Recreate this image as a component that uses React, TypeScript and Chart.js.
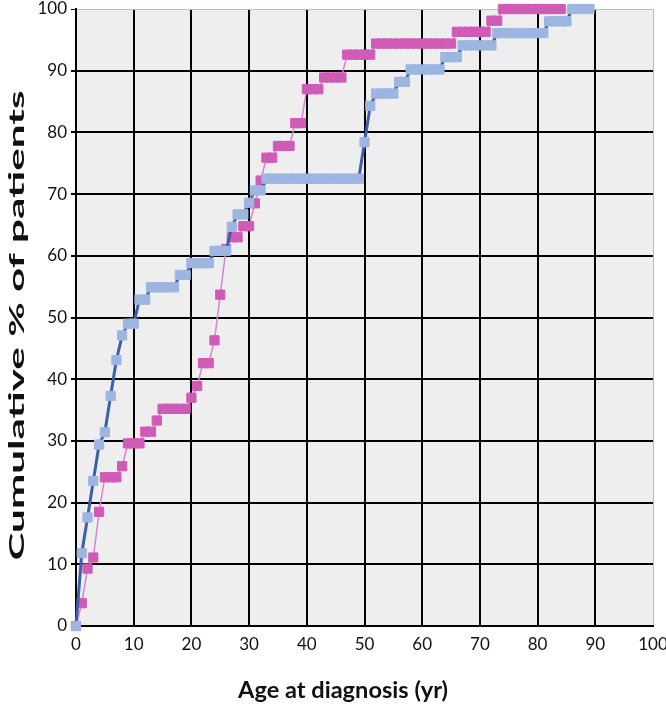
import React, { useEffect, useRef } from "react";
import { Chart, registerables } from "chart.js";

Chart.register(...registerables);

// Age at diagnosis (years) for each plotted point
const agesA = [
  0, 1, 2, 3, 4, 5, 6, 7, 8, 9, 10, 11, 12, 13, 14, 15, 16, 17, 18, 19,
  20, 21, 22, 23, 24, 25, 26, 27, 28, 29, 30, 31, 32, 33, 34, 35, 36, 37, 38, 39,
  40, 41, 42, 43, 44, 45, 46, 47, 48, 49, 50, 51, 52, 53, 54, 55, 56, 57, 58, 59,
  60, 61, 62, 63, 64, 65, 66, 67, 68, 69, 70, 71, 72, 73, 74, 75, 76, 77, 78, 79,
  80, 81, 82, 83, 84, 85, 86, 87, 88, 89,
];
// Cumulative % of patients, blue series
const cumA = [
  0, 11.8, 17.6, 23.5, 29.4, 31.4, 37.3, 43.1, 47.1, 49.0,
  49.0, 52.9, 52.9, 54.9, 54.9, 54.9, 54.9, 54.9, 56.9, 56.9,
  58.8, 58.8, 58.8, 58.8, 60.8, 60.8, 60.8, 64.7, 66.7, 66.7,
  68.6, 70.6, 70.6, 72.5, 72.5, 72.5, 72.5, 72.5, 72.5, 72.5,
  72.5, 72.5, 72.5, 72.5, 72.5, 72.5, 72.5, 72.5, 72.5, 72.5,
  78.4, 84.3, 86.3, 86.3, 86.3, 86.3, 88.2, 88.2, 90.2, 90.2,
  90.2, 90.2, 90.2, 90.2, 92.2, 92.2, 92.2, 94.1, 94.1, 94.1,
  94.1, 94.1, 94.1, 96.1, 96.1, 96.1, 96.1, 96.1, 96.1, 96.1,
  96.1, 96.1, 98.0, 98.0, 98.0, 98.0, 100, 100, 100, 100,
];

const agesB = [
  0, 1, 2, 3, 4, 5, 6, 7, 8, 9, 10, 11, 12, 13, 14, 15, 16, 17, 18, 19,
  20, 21, 22, 23, 24, 25, 26, 27, 28, 29, 30, 31, 32, 33, 34, 35, 36, 37, 38, 39,
  40, 41, 42, 43, 44, 45, 46, 47, 48, 49, 50, 51, 52, 53, 54, 55, 56, 57, 58, 59,
  60, 61, 62, 63, 64, 65, 66, 67, 68, 69, 70, 71, 72, 73, 74, 75, 76, 77, 78, 79,
  80, 81, 82, 83, 84,
];
// Cumulative % of patients, magenta series
const cumB = [
  0, 3.7, 9.3, 11.1, 18.5, 24.1, 24.1, 24.1, 25.9, 29.6,
  29.6, 29.6, 31.5, 31.5, 33.3, 35.2, 35.2, 35.2, 35.2, 35.2,
  37.0, 38.9, 42.6, 42.6, 46.3, 53.7, 61.1, 63.0, 63.0, 64.8,
  64.8, 68.5, 72.2, 75.9, 75.9, 77.8, 77.8, 77.8, 81.5, 81.5,
  87.0, 87.0, 87.0, 88.9, 88.9, 88.9, 88.9, 92.6, 92.6, 92.6,
  92.6, 92.6, 94.4, 94.4, 94.4, 94.4, 94.4, 94.4, 94.4, 94.4,
  94.4, 94.4, 94.4, 94.4, 94.4, 94.4, 96.3, 96.3, 96.3, 96.3,
  96.3, 96.3, 98.1, 98.1, 100, 100, 100, 100, 100, 100,
  100, 100, 100, 100, 100,
];

const xTitle = "Age at diagnosis (yr)";
const yTitle = "Cumulative % of patients";

const FONT = "Lato, 'Liberation Sans', sans-serif";

const plotBg = {
  id: "plotBg",
  beforeDraw(chart: any) {
    const { ctx, chartArea } = chart;
    ctx.save();
    ctx.fillStyle = "#eeeeee";
    ctx.fillRect(chartArea.left, chartArea.top, chartArea.right - chartArea.left, chartArea.bottom - chartArea.top);
    ctx.restore();
  },
};

// Axis titles, drawn as text fitted to the reference's extents
const titlesPlugin = {
  id: "axisTitles",
  afterDraw(chart: any) {
    const { ctx, chartArea } = chart;
    ctx.save();
    ctx.fillStyle = "#111";
    ctx.textAlign = "center";
    ctx.textBaseline = "middle";

    // x title
    ctx.font = `bold 23px ${FONT}`;
    const wx = ctx.measureText(xTitle).width;
    ctx.save();
    ctx.translate(343, chartArea.bottom + 65);
    ctx.scale(210 / wx, 1);
    ctx.fillText(xTitle, 0, 0);
    ctx.restore();

    // y title (stretched along its length)
    ctx.font = `bold 21px ${FONT}`;
    const wy = ctx.measureText(yTitle).width;
    ctx.save();
    ctx.translate(17, (chartArea.top + chartArea.bottom) / 2 + 8);
    ctx.rotate(-Math.PI / 2);
    ctx.scale(470 / wy, 1);
    ctx.fillText(yTitle, 0, 0);
    ctx.restore();

    ctx.restore();
  },
};

export default function App() {
  const ref = useRef<HTMLCanvasElement | null>(null);
  useEffect(() => {
    document.body.style.margin = "0";
    const canvas = ref.current!;
    const chart = new Chart(canvas, {
      type: "line",
      data: {
        datasets: [
          {
            data: agesA.map((a, i) => ({ x: a, y: cumA[i] })),
            borderColor: "#3d5fab",
            borderWidth: 3,
            pointStyle: "rect",
            pointRadius: 6.5,
            pointBorderWidth: 1,
            pointBackgroundColor: "#9cb5e1",
            pointBorderColor: "#9cb5e1",
            tension: 0,
            clip: false,
          },
          {
            data: agesB.map((a, i) => ({ x: a, y: cumB[i] })),
            borderColor: "#db82cd",
            borderWidth: 1.5,
            pointStyle: "rect",
            pointRadius: 6.5,
            pointBorderWidth: 1,
            pointBackgroundColor: "#cf5bb7",
            pointBorderColor: "#cf5bb7",
            tension: 0,
            clip: false,
          },
        ],
      },
      options: {
        responsive: false,
        animation: false,
        layout: { padding: { top: 9, right: 13, left: 0, bottom: 0 } },
        plugins: { legend: { display: false }, tooltip: { enabled: false } },
        scales: {
          x: {
            type: "linear",
            min: 0,
            max: 100,
            afterFit: (s: any) => { s.height = 78; s.paddingRight = 0; s.paddingLeft = 0; },
            ticks: { stepSize: 10, color: "#111", padding: 8, maxRotation: 0, font: { family: FONT, size: 17 } },
            grid: {
              drawTicks: false,
              color: (c: any) => (c.tick && c.tick.value === 100 ? "#a9c0e8" : "#000"),
              lineWidth: (c: any) => (c.tick && c.tick.value === 100 ? 1 : 2),
            },
            border: { color: "#000", width: 2 },
          },
          y: {
            type: "linear",
            min: 0,
            max: 100,
            afterFit: (s: any) => { s.width = 76; s.paddingTop = 0; s.paddingBottom = 0; },
            ticks: { stepSize: 10, color: "#111", padding: 4, font: { family: FONT, size: 17 } },
            grid: {
              drawTicks: true,
              tickLength: 5,
              tickColor: "#000",
              color: (c: any) => (c.tick && c.tick.value === 100 ? "#a9c0e8" : "#000"),
              lineWidth: (c: any) => (c.tick && c.tick.value === 100 ? 1 : 2),
            },
            border: { color: "#000", width: 2 },
          },
        },
      },
      plugins: [plotBg, titlesPlugin],
    });
    return () => chart.destroy();
  }, []);
  return (
    <div style={{ width: 666, height: 704 }}>
      <canvas ref={ref} width={666} height={704} />
    </div>
  );
}
